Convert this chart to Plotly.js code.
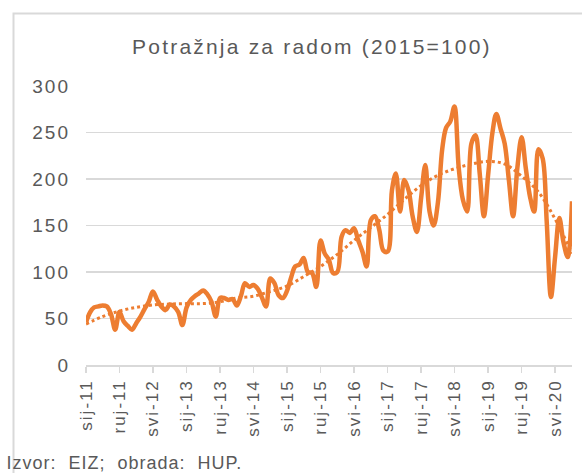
<!DOCTYPE html>
<html>
<head>
<meta charset="utf-8">
<script src="https://cdn.plot.ly/plotly-3.0.1.min.js"></script>
<style>
  html, body { margin: 0; padding: 0; background: #fff; }
  #chart { width: 582px; height: 473px; }
  #chart .xtick text { letter-spacing: 2px; }
  #chart .ytick text { letter-spacing: 2px; }
  #chart .gtitle { letter-spacing: 2.2px; }
  #chart .annotation-text { letter-spacing: 1px; }
</style>
</head>
<body>
<div id="chart"></div>
<script>
// Monthly index values (2015 = 100)
const y2011 = [46, 57, 62, 63, 64, 63, 55, 38, 57, 47, 42, 38];
const y2012 = [45, 52, 60, 68, 79, 70, 63, 59, 65, 63, 57, 43];
const y2013 = [62, 70, 74, 77, 80, 76, 68, 52, 72, 72, 70, 71];
const y2014 = [64, 75, 88, 84, 86, 82, 73, 63, 93, 88, 75, 72];
const y2015 = [80, 95, 106, 108, 115, 100, 99, 84, 134, 120, 113, 99];
const y2016 = [100, 138, 145, 142, 147, 134, 122, 106, 156, 160, 145, 123];
const y2017 = [122, 188, 206, 165, 199, 188, 160, 143, 180, 215, 165, 150];
const y2018 = [175, 232, 255, 262, 278, 212, 178, 165, 238, 247, 205, 160];
const y2019 = [205, 250, 270, 254, 238, 198, 160, 212, 245, 212, 181, 165];
const y2020 = [232, 222, 155, 73, 116, 158, 132, 116, 176];
const years = [2011, 2012, 2013, 2014, 2015, 2016, 2017, 2018, 2019, 2020];
const series = [y2011, y2012, y2013, y2014, y2015, y2016, y2017, y2018, y2019, y2020];

// Dotted trend line
const trendDates = ['2011-01','2011-05','2011-09','2012-01','2012-05','2012-09','2013-01','2013-05','2013-09','2014-01',
  '2014-05','2014-09','2015-01','2015-05','2015-09','2016-01','2016-05','2016-09','2017-01','2017-05',
  '2017-09','2018-01','2018-05','2018-09','2019-01','2019-05','2019-09','2020-01','2020-05','2020-09'];
const trendValues = [44, 52, 58, 62, 64.5, 65.5, 66, 66, 68, 72,
  74, 79, 85, 95, 106, 119, 134, 148, 162, 178,
  193, 204, 211, 216, 219, 216, 203, 186, 157, 120];

// Axis tick labels
const tickDates = ['2011-01','2011-09','2012-05','2013-01','2013-09','2014-05','2015-01','2015-09',
  '2016-05','2017-01','2017-09','2018-05','2019-01','2019-09','2020-05'];
const tickLabels = ['sij-11','ruj-11','svi-12','sij-13','ruj-13','svi-14','sij-15','ruj-15',
  'svi-16','sij-17','ruj-17','svi-18','sij-19','ruj-19','svi-20'];
const yTicks = [0, 50, 100, 150, 200, 250, 300];

const dates = [], values = [];
series.forEach((arr, i) => {
  arr.forEach((v, j) => {
    dates.push(years[i] + '-' + String(j + 1).padStart(2, '0') + '-01');
    values.push(v);
  });
});

const orange = '#ED7D31';
const grey = '#595959';
const font = 'Liberation Sans, Arial, sans-serif';

const traces = [
  {
    x: trendDates.map(d => d + '-01'), y: trendValues, type: 'scatter', mode: 'lines',
    line: { color: orange, width: 3, dash: 'dot', shape: 'spline' }, hoverinfo: 'skip'
  },
  {
    x: dates, y: values, type: 'scatter', mode: 'lines',
    line: { color: orange, width: 4.5, shape: 'spline', smoothing: 1 }
  }
];

const plotW = 486, plotH = 279, mL = 86, mT = 86;
const layout = {
  width: 582, height: 473,
  margin: { l: mL, r: 10, t: mT, b: 108 },
  paper_bgcolor: '#fff', plot_bgcolor: '#fff',
  showlegend: false,
  title: {
    text: 'Potražnja za radom (2015=100)',
    x: 0.536, xanchor: 'center', y: 1 - 47 / 473, yanchor: 'middle',
    font: { family: font, size: 21, color: grey }
  },
  xaxis: {
    type: 'date', range: ['2011-01-01', '2020-09-01'],
    tickmode: 'array', tickvals: tickDates.map(d => d + '-01'), ticktext: tickLabels,
    tickangle: -90, ticks: 'outside', ticklen: 6, tickwidth: 1.5, tickcolor: '#d9d9d9',
    showline: true, linecolor: '#d9d9d9', linewidth: 1.5,
    showgrid: false, zeroline: false,
    tickfont: { family: font, size: 17, color: grey },
    fixedrange: true
  },
  yaxis: {
    range: [0, 300], tickmode: 'array', tickvals: yTicks,
    showgrid: true, gridcolor: '#d9d9d9', gridwidth: 1.5,
    zeroline: false, showline: false, ticks: '',
    ticklabelstandoff: 15,
    tickfont: { family: font, size: 19, color: grey },
    fixedrange: true
  },
  shapes: [{
    type: 'rect', xref: 'paper', yref: 'paper',
    x0: (13.5 - mL) / plotW, x1: 1.5,
    y0: -1, y1: (mT + plotH - 13.5) / plotH,
    line: { color: '#d9d9d9', width: 2 }, fillcolor: 'rgba(0,0,0,0)'
  }],
  annotations: [{
    text: 'Izvor:\u00a0 EIZ;\u00a0 obrada:\u00a0 HUP.',
    xref: 'paper', yref: 'paper', showarrow: false,
    x: (18 - mL) / plotW, xanchor: 'left',
    y: (mT + plotH - 463) / plotH, yanchor: 'middle',
    font: { family: font, size: 18, color: grey }
  }]
};

Plotly.newPlot('chart', traces, layout, { displayModeBar: false, staticPlot: true });
</script>
</body>
</html>
